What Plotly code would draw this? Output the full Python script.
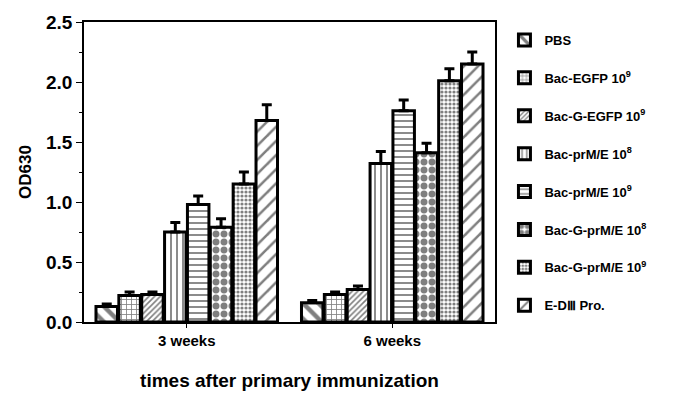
import plotly.graph_objects as go

categories = ["3 weeks", "6 weeks"]
series_names = [
    "PBS",
    "Bac-EGFP 10<sup>9</sup>",
    "Bac-G-EGFP 10<sup>9</sup>",
    "Bac-prM/E 10<sup>8</sup>",
    "Bac-prM/E 10<sup>9</sup>",
    "Bac-G-prM/E 10<sup>8</sup>",
    "Bac-G-prM/E 10<sup>9</sup>",
    "E-DⅢ Pro.",
]
pbs = [0.13, 0.16]
bac_egfp = [0.22, 0.23]
bac_g_egfp = [0.23, 0.27]
prme_8 = [0.75, 1.32]
prme_9 = [0.98, 1.76]
g_prme_8 = [0.79, 1.41]
g_prme_9 = [1.15, 2.01]
ediii = [1.68, 2.15]

pbs_err = [0.02, 0.02]
bac_egfp_err = [0.03, 0.02]
bac_g_egfp_err = [0.02, 0.03]
prme_8_err = [0.08, 0.10]
prme_9_err = [0.07, 0.09]
g_prme_8_err = [0.07, 0.08]
g_prme_9_err = [0.10, 0.10]
ediii_err = [0.13, 0.10]

values = [pbs, bac_egfp, bac_g_egfp, prme_8, prme_9, g_prme_8, g_prme_9, ediii]
errors = [pbs_err, bac_egfp_err, bac_g_egfp_err, prme_8_err, prme_9_err,
          g_prme_8_err, g_prme_9_err, ediii_err]

patterns = [
    dict(shape="\\", size=11, solidity=0.4),
    dict(shape="+", size=5, solidity=0.3),
    dict(shape="/", size=4, solidity=0.4),
    dict(shape="|", size=6, solidity=0.3),
    dict(shape="-", size=6, solidity=0.3),
    dict(shape=".", size=8, solidity=0.6),
    dict(shape=".", size=4, solidity=0.5),
    dict(shape="/", size=10, solidity=0.25),
]

FONT = "Arial, Liberation Sans, sans-serif"

fig = go.Figure()
for i, (name, v, e, p) in enumerate(zip(series_names, values, errors, patterns)):
    pat = dict(p)
    pat.update(fgcolor="black", bgcolor="white", fillmode="overlay")
    fig.add_trace(go.Bar(
        x=categories, y=v, name=name, legendgroup=f"g{i}",
        marker=dict(color="white", line=dict(color="black", width=3), pattern=pat),
        error_y=dict(type="data", array=e, arrayminus=[0] * len(e), symmetric=False,
                     color="black", thickness=3, width=5),
    ))

fig.update_layout(
    width=677, height=399,
    margin=dict(l=76, r=190, t=14, b=85, autoexpand=False),
    paper_bgcolor="white", plot_bgcolor="white",
    barmode="group", bargap=0.11, bargroupgap=0.06,
    font=dict(family=FONT, color="black"),
    showlegend=True,
    legend=dict(x=1.023, xanchor="left", y=0.99, yanchor="top",
                font=dict(family=FONT, size=13, color="black", weight="bold"),
                tracegroupgap=18, itemwidth=30, bgcolor="rgba(0,0,0,0)",
                maxheight=400),
    xaxis=dict(
        showline=True, linecolor="black", linewidth=1.5, mirror=True,
        ticks="outside", ticklen=4, tickcolor="black",
        tickfont=dict(size=15, weight="bold"),
        title=dict(text="times after primary immunization",
                   font=dict(size=19, weight="bold"), standoff=26),
    ),
    yaxis=dict(
        range=[0, 2.5], dtick=0.5, tickformat=".1f",
        showline=True, linecolor="black", linewidth=1.5, mirror=True,
        ticks="outside", ticklen=6, tickcolor="black",
        minor=dict(dtick=0.25, ticks="outside", ticklen=3, tickcolor="black"),
        showgrid=False, zeroline=False,
        tickfont=dict(size=19, weight="bold"),
        title=dict(text="OD630", font=dict(size=17, weight="bold"), standoff=10),
    ),
)

fig.write_html("out.html")
